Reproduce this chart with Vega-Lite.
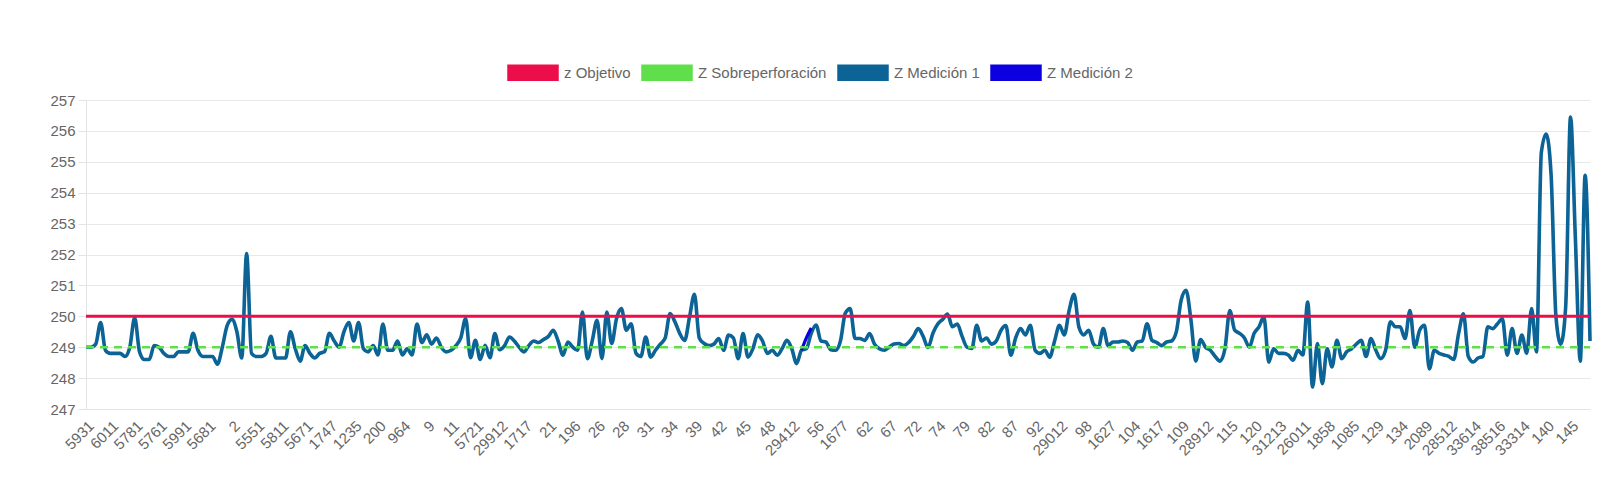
{
  "$schema": "https://vega.github.io/schema/vega-lite/v6.json",
  "width": 1504,
  "height": 309,
  "autosize": {"type": "none"},
  "padding": {"left": 86, "top": 100, "right": 32, "bottom": 69},
  "background": "white",
  "config": {
    "view": {"stroke": null},
    "font": "Liberation Sans",
    "axis": {"labelFont": "Liberation Sans", "labelColor": "#666666"},
    "axisY": {"tickCount": 11, "labelOverlap": false, "title": null, "gridColor": "#e8e8e8", "domainColor": "#e4e4e4", "tickColor": "#e4e4e4", "tickSize": 8, "labelPadding": 3, "labelFontSize": 15},
    "legend": {"labelFont": "Liberation Sans"}
  },
  "data": {"values": [
{"id":"5931","m1":249.0,"obj":250,"sob":249},{"id":"5941","m1":249.0,"obj":250,"sob":249},{"id":"5951","m1":249.1,"obj":250,"sob":249},{"id":"5961","m1":249.8,"obj":250,"sob":249},{"id":"5971","m1":248.9,"obj":250,"sob":249},
{"id":"6011","m1":248.8,"obj":250,"sob":249},{"id":"6021","m1":248.8,"obj":250,"sob":249},{"id":"6031","m1":248.8,"obj":250,"sob":249},{"id":"6041","m1":248.7,"obj":250,"sob":249},{"id":"6051","m1":249.0,"obj":250,"sob":249},
{"id":"5781","m1":249.95,"obj":250,"sob":249},{"id":"5791","m1":248.85,"obj":250,"sob":249},{"id":"5801","m1":248.6,"obj":250,"sob":249},{"id":"5771","m1":248.6,"obj":250,"sob":249},{"id":"5741","m1":249.05,"obj":250,"sob":249},
{"id":"5761","m1":249.0,"obj":250,"sob":249},{"id":"5751","m1":248.8,"obj":250,"sob":249},{"id":"5731","m1":248.7,"obj":250,"sob":249},{"id":"5711","m1":248.7,"obj":250,"sob":249},{"id":"5701","m1":248.85,"obj":250,"sob":249},
{"id":"5991","m1":248.85,"obj":250,"sob":249},{"id":"6001","m1":248.85,"obj":250,"sob":249},{"id":"5981","m1":249.45,"obj":250,"sob":249},{"id":"5921","m1":248.9,"obj":250,"sob":249},{"id":"5911","m1":248.7,"obj":250,"sob":249},
{"id":"5681","m1":248.7,"obj":250,"sob":249},{"id":"5691","m1":248.7,"obj":250,"sob":249},{"id":"5661","m1":248.45,"obj":250,"sob":249},{"id":"5651","m1":249.0,"obj":250,"sob":249},{"id":"5641","m1":249.7,"obj":250,"sob":249},
{"id":"2","m1":249.9,"obj":250,"sob":249},{"id":"1","m1":249.5,"obj":250,"sob":249},{"id":"3","m1":248.65,"obj":250,"sob":249},{"id":"4","m1":252.03,"obj":250,"sob":249},{"id":"5","m1":248.8,"obj":250,"sob":249},
{"id":"5551","m1":248.7,"obj":250,"sob":249},{"id":"5561","m1":248.7,"obj":250,"sob":249},{"id":"5571","m1":248.8,"obj":250,"sob":249},{"id":"5581","m1":249.35,"obj":250,"sob":249},{"id":"5591","m1":248.65,"obj":250,"sob":249},
{"id":"5811","m1":248.65,"obj":250,"sob":249},{"id":"5821","m1":248.65,"obj":250,"sob":249},{"id":"5831","m1":249.5,"obj":250,"sob":249},{"id":"5841","m1":248.95,"obj":250,"sob":249},{"id":"5851","m1":248.55,"obj":250,"sob":249},
{"id":"5671","m1":249.05,"obj":250,"sob":249},{"id":"5631","m1":248.8,"obj":250,"sob":249},{"id":"5621","m1":248.65,"obj":250,"sob":249},{"id":"5611","m1":248.8,"obj":250,"sob":249},{"id":"5601","m1":248.85,"obj":250,"sob":249},
{"id":"1747","m1":249.45,"obj":250,"sob":249},{"id":"1757","m1":249.2,"obj":250,"sob":249},{"id":"1767","m1":249.0,"obj":250,"sob":249},{"id":"1777","m1":249.5,"obj":250,"sob":249},{"id":"1787","m1":249.8,"obj":250,"sob":249},
{"id":"1235","m1":249.2,"obj":250,"sob":249},{"id":"1245","m1":249.8,"obj":250,"sob":249},{"id":"1255","m1":248.95,"obj":250,"sob":249},{"id":"1265","m1":248.85,"obj":250,"sob":249},{"id":"1275","m1":249.05,"obj":250,"sob":249},
{"id":"200","m1":248.75,"obj":250,"sob":249},{"id":"201","m1":249.75,"obj":250,"sob":249},{"id":"202","m1":248.9,"obj":250,"sob":249},{"id":"203","m1":248.9,"obj":250,"sob":249},{"id":"204","m1":249.2,"obj":250,"sob":249},
{"id":"964","m1":248.75,"obj":250,"sob":249},{"id":"974","m1":248.95,"obj":250,"sob":249},{"id":"6","m1":248.75,"obj":250,"sob":249},{"id":"7","m1":249.75,"obj":250,"sob":249},{"id":"8","m1":249.15,"obj":250,"sob":249},
{"id":"9","m1":249.4,"obj":250,"sob":249},{"id":"10","m1":249.1,"obj":250,"sob":249},{"id":"5531","m1":249.3,"obj":250,"sob":249},{"id":"5541","m1":249.0,"obj":250,"sob":249},{"id":"5521","m1":248.85,"obj":250,"sob":249},
{"id":"11","m1":248.9,"obj":250,"sob":249},{"id":"12","m1":249.05,"obj":250,"sob":249},{"id":"13","m1":249.3,"obj":250,"sob":249},{"id":"14","m1":249.93,"obj":250,"sob":249},{"id":"15","m1":248.66,"obj":250,"sob":249},
{"id":"5721","m1":249.22,"obj":250,"sob":249},{"id":"5511","m1":248.6,"obj":250,"sob":249},{"id":"5501","m1":249.06,"obj":250,"sob":249},{"id":"5491","m1":248.66,"obj":250,"sob":249},{"id":"5481","m1":249.44,"obj":250,"sob":249},
{"id":"29912","m1":248.92,"obj":250,"sob":249},{"id":"29812","m1":249.05,"obj":250,"sob":249},{"id":"16","m1":249.33,"obj":250,"sob":249},{"id":"17","m1":249.2,"obj":250,"sob":249},{"id":"18","m1":249.0,"obj":250,"sob":249},
{"id":"1717","m1":248.85,"obj":250,"sob":249},{"id":"19","m1":249.06,"obj":250,"sob":249},{"id":"20","m1":249.2,"obj":250,"sob":249},{"id":"1727","m1":249.15,"obj":250,"sob":249},{"id":"1737","m1":249.25,"obj":250,"sob":249},
{"id":"21","m1":249.35,"obj":250,"sob":249},{"id":"22","m1":249.55,"obj":250,"sob":249},{"id":"23","m1":249.2,"obj":250,"sob":249},{"id":"24","m1":248.74,"obj":250,"sob":249},{"id":"194","m1":249.17,"obj":250,"sob":249},
{"id":"196","m1":249.0,"obj":250,"sob":249},{"id":"197","m1":248.9,"obj":250,"sob":249},{"id":"198","m1":250.14,"obj":250,"sob":249},{"id":"25","m1":248.63,"obj":250,"sob":249},{"id":"199","m1":249.2,"obj":250,"sob":249},
{"id":"26","m1":249.87,"obj":250,"sob":249},{"id":"27","m1":248.63,"obj":250,"sob":249},{"id":"1707","m1":250.14,"obj":250,"sob":249},{"id":"1697","m1":249.12,"obj":250,"sob":249},{"id":"1687","m1":249.93,"obj":250,"sob":249},
{"id":"28","m1":250.25,"obj":250,"sob":249},{"id":"29","m1":249.55,"obj":250,"sob":249},{"id":"30","m1":249.76,"obj":250,"sob":249},{"id":"1667","m1":248.8,"obj":250,"sob":249},{"id":"1657","m1":248.7,"obj":250,"sob":249},
{"id":"31","m1":249.33,"obj":250,"sob":249},{"id":"32","m1":248.68,"obj":250,"sob":249},{"id":"33","m1":248.9,"obj":250,"sob":249},{"id":"1647","m1":249.1,"obj":250,"sob":249},{"id":"1637","m1":249.3,"obj":250,"sob":249},
{"id":"34","m1":250.09,"obj":250,"sob":249},{"id":"35","m1":249.82,"obj":250,"sob":249},{"id":"36","m1":249.44,"obj":250,"sob":249},{"id":"37","m1":249.22,"obj":250,"sob":249},{"id":"38","m1":249.98,"obj":250,"sob":249},
{"id":"39","m1":250.71,"obj":250,"sob":249},{"id":"40","m1":249.3,"obj":250,"sob":249},{"id":"41","m1":249.12,"obj":250,"sob":249},{"id":"1607","m1":249.05,"obj":250,"sob":249},{"id":"1597","m1":249.1,"obj":250,"sob":249},
{"id":"42","m1":249.28,"obj":250,"sob":249},{"id":"43","m1":248.9,"obj":250,"sob":249},{"id":"44","m1":249.39,"obj":250,"sob":249},{"id":"1587","m1":249.3,"obj":250,"sob":249},{"id":"1577","m1":248.63,"obj":250,"sob":249},
{"id":"45","m1":249.44,"obj":250,"sob":249},{"id":"46","m1":248.68,"obj":250,"sob":249},{"id":"47","m1":248.95,"obj":250,"sob":249},{"id":"1567","m1":249.4,"obj":250,"sob":249},{"id":"1557","m1":249.2,"obj":250,"sob":249},
{"id":"48","m1":248.8,"obj":250,"sob":249},{"id":"49","m1":248.9,"obj":250,"sob":249},{"id":"50","m1":248.74,"obj":250,"sob":249},{"id":"51","m1":248.95,"obj":250,"sob":249},{"id":"52","m1":249.22,"obj":250,"sob":249},
{"id":"29412","m1":248.95,"obj":250,"sob":249},{"id":"53","m1":248.47,"obj":250,"sob":249},{"id":"54","m1":248.9,"m2":248.9,"obj":250,"sob":249},{"id":"55","m1":248.95,"m2":249.3,"obj":250,"sob":249},{"id":"29312","m1":249.45,"m2":249.62,"obj":250,"sob":249},
{"id":"56","m1":249.72,"obj":250,"sob":249},{"id":"57","m1":249.2,"obj":250,"sob":249},{"id":"58","m1":249.17,"obj":250,"sob":249},{"id":"59","m1":248.92,"obj":250,"sob":249},{"id":"60","m1":248.9,"obj":250,"sob":249},
{"id":"1677","m1":249.2,"obj":250,"sob":249},{"id":"61","m1":250.1,"obj":250,"sob":249},{"id":"1547","m1":250.25,"obj":250,"sob":249},{"id":"1537","m1":249.28,"obj":250,"sob":249},{"id":"1527","m1":249.28,"obj":250,"sob":249},
{"id":"62","m1":249.22,"obj":250,"sob":249},{"id":"63","m1":249.44,"obj":250,"sob":249},{"id":"64","m1":249.1,"obj":250,"sob":249},{"id":"65","m1":248.95,"obj":250,"sob":249},{"id":"66","m1":248.9,"obj":250,"sob":249},
{"id":"67","m1":249.0,"obj":250,"sob":249},{"id":"68","m1":249.1,"obj":250,"sob":249},{"id":"69","m1":249.12,"obj":250,"sob":249},{"id":"70","m1":249.05,"obj":250,"sob":249},{"id":"71","m1":249.15,"obj":250,"sob":249},
{"id":"72","m1":249.35,"obj":250,"sob":249},{"id":"73","m1":249.6,"obj":250,"sob":249},{"id":"1517","m1":249.35,"obj":250,"sob":249},{"id":"1507","m1":248.99,"obj":250,"sob":249},{"id":"1497","m1":249.45,"obj":250,"sob":249},
{"id":"74","m1":249.75,"obj":250,"sob":249},{"id":"75","m1":249.9,"obj":250,"sob":249},{"id":"76","m1":250.07,"obj":250,"sob":249},{"id":"77","m1":249.66,"obj":250,"sob":249},{"id":"78","m1":249.75,"obj":250,"sob":249},
{"id":"79","m1":249.35,"obj":250,"sob":249},{"id":"80","m1":249.0,"obj":250,"sob":249},{"id":"81","m1":248.96,"obj":250,"sob":249},{"id":"1487","m1":249.71,"obj":250,"sob":249},{"id":"1477","m1":249.2,"obj":250,"sob":249},
{"id":"82","m1":249.3,"obj":250,"sob":249},{"id":"83","m1":249.1,"obj":250,"sob":249},{"id":"84","m1":249.2,"obj":250,"sob":249},{"id":"85","m1":249.55,"obj":250,"sob":249},{"id":"86","m1":249.7,"obj":250,"sob":249},
{"id":"87","m1":248.74,"obj":250,"sob":249},{"id":"88","m1":249.3,"obj":250,"sob":249},{"id":"89","m1":249.6,"obj":250,"sob":249},{"id":"90","m1":249.4,"obj":250,"sob":249},{"id":"91","m1":249.71,"obj":250,"sob":249},
{"id":"92","m1":248.9,"obj":250,"sob":249},{"id":"93","m1":248.8,"obj":250,"sob":249},{"id":"94","m1":248.9,"obj":250,"sob":249},{"id":"95","m1":248.68,"obj":250,"sob":249},{"id":"96","m1":249.2,"obj":250,"sob":249},
{"id":"29012","m1":249.71,"obj":250,"sob":249},{"id":"97","m1":249.4,"obj":250,"sob":249},{"id":"28812","m1":250.2,"obj":250,"sob":249},{"id":"28712","m1":250.71,"obj":250,"sob":249},{"id":"28612","m1":249.65,"obj":250,"sob":249},
{"id":"98","m1":249.4,"obj":250,"sob":249},{"id":"99","m1":249.55,"obj":250,"sob":249},{"id":"100","m1":249.1,"obj":250,"sob":249},{"id":"101","m1":249.0,"obj":250,"sob":249},{"id":"102","m1":249.6,"obj":250,"sob":249},
{"id":"1627","m1":249.05,"obj":250,"sob":249},{"id":"103","m1":249.17,"obj":250,"sob":249},{"id":"1467","m1":249.17,"obj":250,"sob":249},{"id":"1457","m1":249.2,"obj":250,"sob":249},{"id":"1447","m1":249.15,"obj":250,"sob":249},
{"id":"104","m1":248.9,"obj":250,"sob":249},{"id":"105","m1":249.17,"obj":250,"sob":249},{"id":"106","m1":249.2,"obj":250,"sob":249},{"id":"1437","m1":249.76,"obj":250,"sob":249},{"id":"1427","m1":249.22,"obj":250,"sob":249},
{"id":"1617","m1":249.15,"obj":250,"sob":249},{"id":"107","m1":249.05,"obj":250,"sob":249},{"id":"108","m1":249.17,"obj":250,"sob":249},{"id":"1417","m1":249.2,"obj":250,"sob":249},{"id":"1407","m1":249.49,"obj":250,"sob":249},
{"id":"109","m1":250.52,"obj":250,"sob":249},{"id":"110","m1":250.84,"obj":250,"sob":249},{"id":"111","m1":249.9,"obj":250,"sob":249},{"id":"112","m1":248.55,"obj":250,"sob":249},{"id":"113","m1":249.25,"obj":250,"sob":249},
{"id":"28912","m1":249.0,"obj":250,"sob":249},{"id":"114","m1":248.9,"obj":250,"sob":249},{"id":"1397","m1":248.7,"obj":250,"sob":249},{"id":"1387","m1":248.55,"obj":250,"sob":249},{"id":"1377","m1":248.95,"obj":250,"sob":249},
{"id":"115","m1":250.19,"obj":250,"sob":249},{"id":"116","m1":249.55,"obj":250,"sob":249},{"id":"117","m1":249.45,"obj":250,"sob":249},{"id":"118","m1":249.3,"obj":250,"sob":249},{"id":"119","m1":249.0,"obj":250,"sob":249},
{"id":"120","m1":249.45,"obj":250,"sob":249},{"id":"121","m1":249.66,"obj":250,"sob":249},{"id":"122","m1":249.98,"obj":250,"sob":249},{"id":"123","m1":248.52,"obj":250,"sob":249},{"id":"124","m1":248.95,"obj":250,"sob":249},
{"id":"31213","m1":248.8,"obj":250,"sob":249},{"id":"31113","m1":248.8,"obj":250,"sob":249},{"id":"31013","m1":248.75,"obj":250,"sob":249},{"id":"30913","m1":248.58,"obj":250,"sob":249},{"id":"30813","m1":248.9,"obj":250,"sob":249},
{"id":"26011","m1":248.75,"obj":250,"sob":249},{"id":"125","m1":250.46,"obj":250,"sob":249},{"id":"126","m1":247.71,"obj":250,"sob":249},{"id":"127","m1":249.12,"obj":250,"sob":249},{"id":"128","m1":247.82,"obj":250,"sob":249},
{"id":"1858","m1":248.95,"obj":250,"sob":249},{"id":"1868","m1":248.36,"obj":250,"sob":249},{"id":"1878","m1":249.22,"obj":250,"sob":249},{"id":"1888","m1":248.63,"obj":250,"sob":249},{"id":"1898","m1":248.85,"obj":250,"sob":249},
{"id":"1085","m1":248.95,"obj":250,"sob":249},{"id":"1095","m1":249.1,"obj":250,"sob":249},{"id":"1105","m1":249.22,"obj":250,"sob":249},{"id":"1115","m1":248.7,"obj":250,"sob":249},{"id":"1125","m1":249.28,"obj":250,"sob":249},
{"id":"129","m1":248.9,"obj":250,"sob":249},{"id":"130","m1":248.63,"obj":250,"sob":249},{"id":"131","m1":248.9,"obj":250,"sob":249},{"id":"132","m1":249.82,"obj":250,"sob":249},{"id":"133","m1":249.66,"obj":250,"sob":249},
{"id":"134","m1":249.66,"obj":250,"sob":249},{"id":"135","m1":249.28,"obj":250,"sob":249},{"id":"136","m1":250.19,"obj":250,"sob":249},{"id":"137","m1":249.0,"obj":250,"sob":249},{"id":"2079","m1":249.55,"obj":250,"sob":249},
{"id":"2089","m1":249.71,"obj":250,"sob":249},{"id":"2099","m1":248.3,"obj":250,"sob":249},{"id":"2109","m1":248.9,"obj":250,"sob":249},{"id":"2119","m1":248.8,"obj":250,"sob":249},{"id":"2129","m1":248.75,"obj":250,"sob":249},
{"id":"28512","m1":248.7,"obj":250,"sob":249},{"id":"28412","m1":248.6,"obj":250,"sob":249},{"id":"28312","m1":249.44,"obj":250,"sob":249},{"id":"28212","m1":250.08,"obj":250,"sob":249},{"id":"28112","m1":248.7,"obj":250,"sob":249},
{"id":"33614","m1":248.52,"obj":250,"sob":249},{"id":"33714","m1":248.65,"obj":250,"sob":249},{"id":"33814","m1":248.7,"obj":250,"sob":249},{"id":"33914","m1":249.66,"obj":250,"sob":249},{"id":"34014","m1":249.6,"obj":250,"sob":249},
{"id":"38516","m1":249.76,"obj":250,"sob":249},{"id":"38616","m1":249.92,"obj":250,"sob":249},{"id":"38716","m1":248.74,"obj":250,"sob":249},{"id":"38816","m1":249.6,"obj":250,"sob":249},{"id":"38916","m1":248.8,"obj":250,"sob":249},
{"id":"33314","m1":249.39,"obj":250,"sob":249},{"id":"33414","m1":248.8,"obj":250,"sob":249},{"id":"33514","m1":250.25,"obj":250,"sob":249},{"id":"138","m1":248.85,"obj":250,"sob":249},{"id":"139","m1":255.3,"obj":250,"sob":249},
{"id":"140","m1":255.9,"obj":250,"sob":249},{"id":"141","m1":254.6,"obj":250,"sob":249},{"id":"142","m1":250.0,"obj":250,"sob":249},{"id":"143","m1":249.1,"obj":250,"sob":249},{"id":"144","m1":250.3,"obj":250,"sob":249},
{"id":"145","m1":256.45,"obj":250,"sob":249},{"id":"146","m1":252.5,"obj":250,"sob":249},{"id":"147","m1":248.55,"obj":250,"sob":249},{"id":"148","m1":254.56,"obj":250,"sob":249},{"id":"149","m1":249.2,"obj":250,"sob":249}
  ]},
  "encoding": {
    "x": {
      "field": "id", "type": "nominal", "sort": null,
      "scale": {"type": "point", "padding": 0},
      "axis": {
        "title": null, "labelAngle": -45, "ticks": false, "grid": false,
        "domainColor": "#e4e4e4", "labelFontSize": 15, "labelPadding": 9,
        "labelOverlap": false,
        "values": ["5931","6011","5781","5761","5991","5681","2","5551","5811","5671","1747","1235","200","964","9","11","5721","29912","1717","21","196","26","28","31","34","39","42","45","48","29412","56","1677","62","67","72","74","79","82","87","92","29012","98","1627","104","1617","109","28912","115","120","31213","26011","1858","1085","129","134","2089","28512","33614","38516","33314","140","145"]
      }
    }
  },
  "layer": [
    {
      "mark": {"type": "line", "interpolate": "monotone", "strokeWidth": 3.6},
      "encoding": {
        "y": {
          "field": "m1", "type": "quantitative",
          "scale": {"domain": [247, 257], "nice": false, "zero": false},
          "axis": {"title": null, "values": [247,248,249,250,251,252,253,254,255,256,257], "tickCount": 11, "labelOverlap": false}
        },
        "color": {
          "datum": "Z Medición 1", "type": "nominal",
          "scale": {
            "domain": ["z Objetivo", "Z Sobreperforación", "Z Medición 1", "Z Medición 2"],
            "range": ["#ec0e4a", "#5fe04a", "#0b6396", "#0c00e0"]
          },
          "legend": {
            "title": null, "orient": "none", "direction": "horizontal",
            "legendX": 421, "legendY": -53.5,
            "symbolType": "M-1,-0.3H1V0.3H-1Z", "symbolSize": 2500,
            "labelFontSize": 15, "labelColor": "#666666", "labelOffset": 5,
            "columnPadding": 8,
            "encode": {"symbols": {"update": {
              "fill": {"scale": "color", "field": "value"},
              "stroke": {"value": "transparent"},
              "opacity": {"value": 1}
            }}}
          }
        }
      }
    },
    {
      "mark": {"type": "line", "interpolate": "monotone", "strokeWidth": 3.2},
      "encoding": {
        "y": {"field": "m2", "type": "quantitative", "axis": {"title": null, "values": [247,248,249,250,251,252,253,254,255,256,257], "tickCount": 11, "labelOverlap": false}},
        "color": {"datum": "Z Medición 2", "type": "nominal"}
      }
    },
    {
      "mark": {"type": "line", "strokeWidth": 2.6, "strokeDash": [8, 6]},
      "encoding": {
        "y": {"field": "sob", "type": "quantitative", "axis": {"title": null, "values": [247,248,249,250,251,252,253,254,255,256,257], "tickCount": 11, "labelOverlap": false}},
        "color": {"datum": "Z Sobreperforación", "type": "nominal"}
      }
    },
    {
      "mark": {"type": "line", "strokeWidth": 3},
      "encoding": {
        "y": {"field": "obj", "type": "quantitative", "axis": {"title": null, "values": [247,248,249,250,251,252,253,254,255,256,257], "tickCount": 11, "labelOverlap": false}},
        "color": {"datum": "z Objetivo", "type": "nominal"}
      }
    }
  ]
}
